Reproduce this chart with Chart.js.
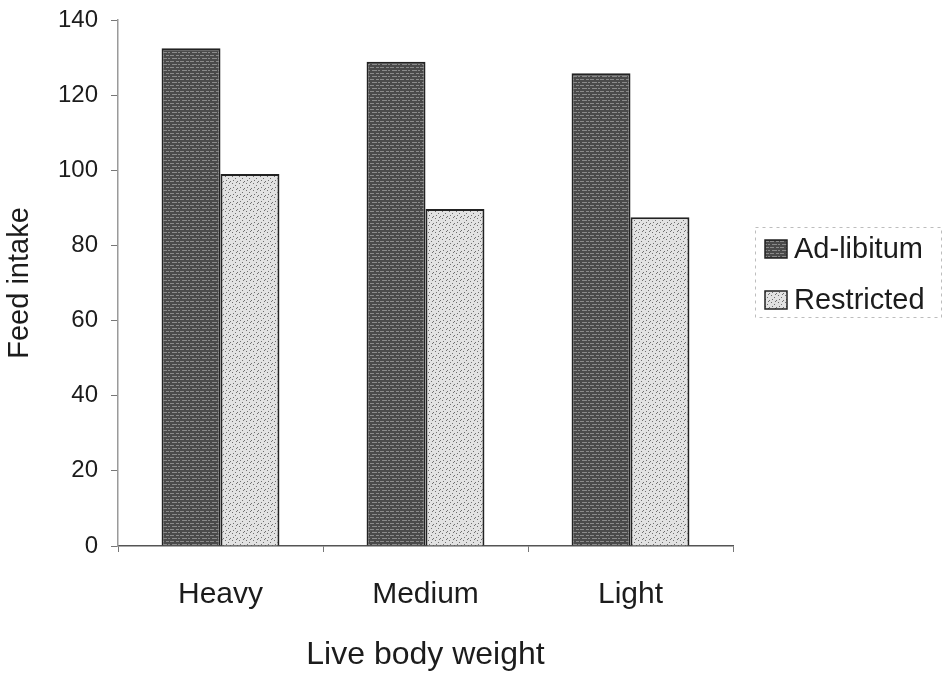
<!DOCTYPE html>
<html>
<head>
<meta charset="utf-8">
<title>Feed intake by live body weight</title>
<script src="https://cdn.jsdelivr.net/npm/chart.js@4/dist/chart.umd.min.js"></script>
<style>
  html, body { margin: 0; padding: 0; background: #ffffff; }
  #chart { display: block; }
</style>
</head>
<body>
<canvas id="chart" width="943" height="676"></canvas>
<script>
// Live body weight groups and feed intake per feeding regime
const categories = ["Heavy", "Medium", "Light"];
const adLibitum = [132.5, 128.9, 125.8];
const restricted = [99.0, 89.7, 87.5];
const seriesNames = ["Ad-libitum", "Restricted"];
const yTicks = [0, 20, 40, 60, 80, 100, 120, 140];

const FONT = '"Liberation Sans", Arial, Helvetica, sans-serif';
const INK = '#1c1c1c';

// Small repeating textures: dark streaked fill and light stippled fill
function makeTile(w, h, base, marks, markColor) {
  const c = document.createElement('canvas');
  c.width = w; c.height = h;
  const g = c.getContext('2d');
  g.fillStyle = base;
  g.fillRect(0, 0, w, h);
  g.fillStyle = markColor;
  marks.forEach(m => g.fillRect(m[0], m[1], m[2], m[3]));
  return c;
}
const ctx = document.getElementById('chart').getContext('2d');
const darkTile = makeTile(10, 6, '#4a4a4a',
  [[0, 1, 4, 1], [6, 1, 3, 1], [2, 4, 5, 1], [8, 4, 2, 1]], '#8a8a8a');
const lightTile = makeTile(7, 7, '#e2e2e2',
  [[1, 1, 1, 1], [4, 3, 1, 1], [2, 5, 1, 1], [6, 6, 1, 1], [5, 0, 1, 1]], '#707070');
const darkFill = ctx.createPattern(darkTile, 'repeat');
const lightFill = ctx.createPattern(lightTile, 'repeat');

// Legend drawn in a dashed frame to the right of the plot
const sideLegend = {
  id: 'sideLegend',
  afterDraw(chart) {
    const c = chart.ctx;
    c.save();
    c.setLineDash([3, 4]);
    c.strokeStyle = '#bdbdbd';
    c.lineWidth = 1;
    c.strokeRect(755.5, 227.5, 186, 90);
    c.setLineDash([]);
    const fills = [darkFill, lightFill];
    const rowsY = [249, 300];
    c.font = '29px ' + FONT;
    c.textBaseline = 'middle';
    c.textAlign = 'left';
    seriesNames.forEach((name, i) => {
      c.fillStyle = fills[i];
      c.fillRect(765, rowsY[i] - 9, 22, 18);
      c.strokeStyle = '#222';
      c.lineWidth = 1.5;
      c.strokeRect(765, rowsY[i] - 9, 22, 18);
      c.fillStyle = INK;
      c.fillText(name, 794, rowsY[i] + 1);
    });
    c.restore();
  }
};

new Chart(ctx, {
  type: 'bar',
  data: {
    labels: categories,
    datasets: [
      {
        label: seriesNames[0],
        data: adLibitum,
        backgroundColor: darkFill,
        borderColor: '#222222',
        borderWidth: 2,
        borderSkipped: 'bottom'
      },
      {
        label: seriesNames[1],
        data: restricted,
        backgroundColor: lightFill,
        borderColor: '#222222',
        borderWidth: 2,
        borderSkipped: 'bottom'
      }
    ]
  },
  options: {
    responsive: false,
    animation: false,
    layout: { padding: { left: 0, right: 210, top: 20, bottom: 0 } },
    datasets: {
      bar: { barPercentage: 1.0, categoryPercentage: 0.575 }
    },
    plugins: {
      legend: { display: false },
      tooltip: { enabled: false }
    },
    scales: {
      x: {
        afterFit(scale) {
          scale.height = 130;
          scale.paddingLeft = 0;
          scale.paddingRight = 0;
        },
        grid: {
          display: true,
          drawOnChartArea: false,
          drawTicks: true,
          tickLength: 6,
          color: '#777777',
          offset: true
        },
        border: { display: true, color: '#555555', width: 1.5, dash: [8, 3] },
        ticks: {
          padding: 25,
          color: INK,
          font: { family: FONT, size: 30 }
        },
        title: {
          display: true,
          text: 'Live body weight',
          color: INK,
          font: { family: FONT, size: 32 },
          padding: { top: 0, bottom: 2 }
        }
      },
      y: {
        min: 0,
        max: 140,
        afterFit(scale) {
          scale.width = 118;
          scale.paddingTop = 0;
          scale.paddingBottom = 0;
        },
        afterBuildTicks(scale) { scale.ticks = yTicks.map(v => ({ value: v })); },
        grid: {
          display: true,
          drawOnChartArea: false,
          drawTicks: true,
          tickLength: 7,
          color: '#777777'
        },
        border: { display: true, color: '#9a9a9a', width: 1.5, dash: [1, 4] },
        ticks: {
          padding: 13,
          color: INK,
          font: { family: FONT, size: 24 }
        },
        title: {
          display: true,
          text: 'Feed intake',
          color: INK,
          font: { family: FONT, size: 29 },
          padding: { top: 3, bottom: 0 }
        }
      }
    }
  },
  plugins: [sideLegend]
});
</script>
</body>
</html>
